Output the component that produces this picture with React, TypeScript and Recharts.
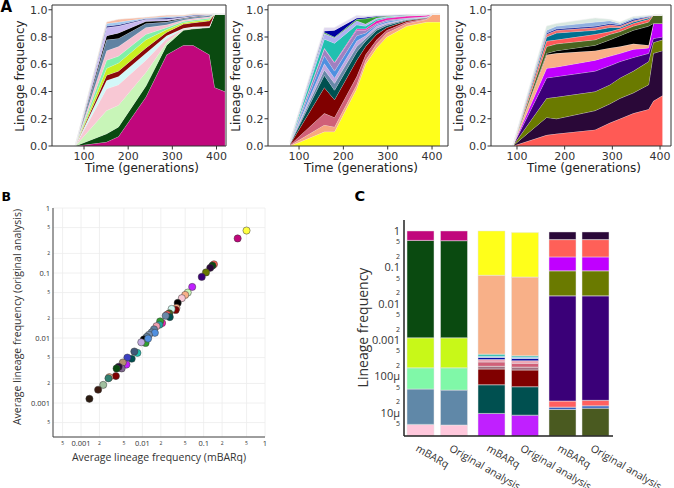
import React from "react";
import {
  AreaChart,
  Area,
  XAxis,
  YAxis,
  ReferenceLine,
  ScatterChart,
  Scatter,
  CartesianGrid,
  Cell,
  BarChart,
  Bar,
} from "recharts";

const FONT_A = "'DejaVu Sans', sans-serif";
const FONT_BC = "'Open Sans', 'Liberation Sans', sans-serif";

// ---------- A: lineage frequencies over time, listed bottom -> top ----------
const A_X_TICKS = [100, 200, 300, 400];
const A_Y_TICKS = [0, 0.2, 0.4, 0.6, 0.8, 1];

const A1_TIMES = [80, 151, 178, 240, 287, 325, 347, 384, 396, 419];
const A1_LINEAGES = [
  [0, 0.03, 0.07, 0.36, 0.67, 0.74, 0.74, 0.67, 0.43, 0.4],
  [0, 0.06, 0.07, 0.08, 0.07, 0.11, 0.12, 0.2, 0.54, 0.57],
  [0, 0.17, 0.16, 0.1, 0.02, 0.005, 0.005, 0.003, 0, 0],
  [0, 0.16, 0.15, 0.09, 0.03, 0.005, 0.005, 0.003, 0, 0],
  [0, 0.06, 0.06, 0.05, 0.02, 0.005, 0.005, 0.003, 0, 0],
  [0, 0.04, 0.04, 0.04, 0.025, 0.03, 0.03, 0.04, 0, 0],
  [0, 0.05, 0.06, 0.06, 0.02, 0.01, 0.01, 0.01, 0, 0],
  [0, 0.06, 0.05, 0.04, 0.015, 0.01, 0.01, 0.01, 0, 0],
  [0, 0.07, 0.07, 0.05, 0.02, 0.01, 0.01, 0.01, 0, 0],
  [0, 0.08, 0.06, 0.03, 0.02, 0.01, 0.01, 0.01, 0, 0],
  [0, 0.03, 0.04, 0.015, 0.01, 0.005, 0.005, 0.002, 0, 0],
  [0, 0.06, 0.05, 0.015, 0.01, 0.005, 0.005, 0.002, 0, 0],
  [0, 0.01, 0.01, 0.005, 0.01, 0.005, 0.005, 0.002, 0, 0],
  [0, 0.02, 0.02, 0.005, 0.01, 0.005, 0.005, 0.002, 0, 0],
  [0, 0.01, 0.02, 0.005, 0.01, 0.005, 0.005, 0.002, 0, 0],
];
const A1_COLORS = [
  "#c0077c", "#0a4a10", "#c8f5b8", "#f8c8d4", "#d2f8f8", "#8b0a0a", "#c8f020", "#80f0a8",
  "#f5c0d0", "#6082a2", "#000000", "#c8b8f0", "#202080", "#a0c8f0", "#f8b8a0",
];

const A2_TIMES = [80, 157, 180, 230, 250, 275, 298, 343, 388, 403, 418];
const A2_LINEAGES = [
  [0, 0.105, 0.105, 0.42, 0.6, 0.72, 0.8, 0.88, 0.91, 0.91, 0.91],
  [0.005, 0.05, 0.035, 0.03, 0.03, 0.03, 0.03, 0.02, 0.02, 0.06, 0.06],
  [0.005, 0.085, 0.07, 0.06, 0.04, 0.03, 0.02, 0.01, 0.005, 0, 0],
  [0.005, 0.19, 0.13, 0.12, 0.06, 0.04, 0.02, 0.01, 0.005, 0, 0],
  [0.004, 0.09, 0.07, 0.06, 0.04, 0.03, 0.015, 0.005, 0.003, 0, 0],
  [0.003, 0.04, 0.05, 0.04, 0.02, 0.015, 0.01, 0.005, 0.002, 0, 0],
  [0.003, 0.045, 0.04, 0.04, 0.02, 0.015, 0.01, 0.003, 0.002, 0, 0],
  [0.003, 0.06, 0.05, 0.04, 0.02, 0.01, 0.01, 0.003, 0.002, 0, 0],
  [0.003, 0.05, 0.06, 0.04, 0.02, 0.01, 0.01, 0.003, 0.002, 0, 0],
  [0, 0.005, 0.005, 0.01, 0.01, 0.02, 0.015, 0.015, 0.01, 0, 0],
  [0.003, 0.065, 0.14, 0.03, 0.02, 0.01, 0.005, 0.003, 0.002, 0, 0],
  [0.002, 0.04, 0.04, 0.03, 0.015, 0.01, 0.005, 0.002, 0.001, 0, 0],
  [0.002, 0.01, 0.005, 0.01, 0.04, 0.01, 0.005, 0.002, 0, 0, 0],
  [0.001, 0.01, 0.05, 0.01, 0.01, 0.005, 0.003, 0.002, 0, 0, 0],
  [0.002, 0.025, 0.02, 0.02, 0.01, 0.005, 0.004, 0.002, 0.002, 0, 0],
];
const A2_COLORS = [
  "#ffff1a", "#f8a880", "#d06078", "#800000", "#005050", "#6888a8", "#c0a8e0", "#5090e0",
  "#a080c0", "#f020b0", "#20c0b0", "#b0b0f0", "#30a030", "#0000a0", "#e0d8f0",
];

const A3_TIMES = [91, 162, 183, 264, 295, 316, 344, 376, 386, 405];
const A3_LINEAGES = [
  [0, 0.08, 0.09, 0.12, 0.17, 0.2, 0.24, 0.27, 0.33, 0.37],
  [0, 0.13, 0.11, 0.14, 0.14, 0.15, 0.15, 0.18, 0.35, 0.33],
  [0, 0.14, 0.16, 0.14, 0.14, 0.15, 0.16, 0.17, 0.08, 0.08],
  [0, 0.15, 0.15, 0.15, 0.14, 0.12, 0.1, 0.06, 0.03, 0.02],
  [0, 0.07, 0.07, 0.08, 0.07, 0.06, 0.06, 0.04, 0.11, 0.1],
  [0, 0.1, 0.1, 0.07, 0.06, 0.05, 0.04, 0.02, 0, 0],
  [0, 0.01, 0.02, 0.04, 0.06, 0.08, 0.1, 0.14, 0, 0],
  [0, 0.05, 0.05, 0.04, 0.04, 0.03, 0.03, 0.03, 0.06, 0.06],
  [0, 0.04, 0.03, 0.04, 0.02, 0.02, 0.02, 0.02, 0, 0],
  [0, 0.03, 0.05, 0.03, 0.03, 0.01, 0.01, 0.01, 0, 0],
  [0, 0.02, 0.02, 0.02, 0.02, 0.01, 0.01, 0.005, 0, 0],
  [0, 0.01, 0.01, 0.01, 0.01, 0.01, 0.01, 0.005, 0, 0],
  [0, 0.02, 0.02, 0.03, 0.02, 0.01, 0.01, 0.005, 0, 0],
  [0, 0.03, 0.02, 0.03, 0.01, 0.01, 0.01, 0.005, 0, 0],
];
const A3_COLORS = [
  "#ff5a55", "#2a0838", "#6a7a00", "#3c0078", "#c000ff", "#f8b088", "#000000",
  "#4a6420", "#ff5858", "#007090", "#f07070", "#2030a0", "#90b0e0", "#d8e8e0",
];

// ---------- B: average lineage frequency, mBARq vs original ----------
const B_MBARQ = [
  0.5, 0.358, 0.147, 0.139, 0.128, 0.109, 0.093, 0.065, 0.055, 0.05, 0.044, 0.0377, 0.036,
  0.035, 0.03, 0.0275, 0.0255, 0.028, 0.024, 0.021, 0.0195, 0.019, 0.017, 0.0155, 0.0142,
  0.016, 0.0128, 0.0118, 0.0106, 0.0113, 0.0096, 0.0124, 0.0083, 0.0074, 0.0067, 0.0057,
  0.0055, 0.0048, 0.0046, 0.0041, 0.0038, 0.0037, 0.0029, 0.0028, 0.0023, 0.0019, 0.00137,
];
const B_ORIGINAL = [
  0.45, 0.34, 0.136, 0.13, 0.12, 0.102, 0.087, 0.061, 0.05, 0.046, 0.041, 0.0346, 0.029,
  0.027, 0.028, 0.024, 0.023, 0.021, 0.022, 0.017, 0.018, 0.016, 0.0152, 0.0136, 0.0122,
  0.012, 0.0112, 0.0104, 0.0095, 0.0084, 0.0086, 0.0098, 0.0059, 0.0062, 0.0048, 0.005,
  0.0039, 0.0042, 0.0034, 0.0036, 0.0034, 0.0026, 0.0025, 0.0024, 0.0019, 0.0016, 0.00116,
];
const B_COLORS = [
  "#ffff40", "#c0077c", "#ff6050", "#0a4a10", "#2a0838", "#6a7a00", "#3c0078", "#c020ff",
  "#c8f5b8", "#f8b088", "#f8c8d4", "#000000", "#f8b088", "#800000", "#d0f8f0", "#4a6420",
  "#ff5858", "#005050", "#6888a8", "#f020b0", "#30a030", "#20a0a0", "#f0a0b0", "#5f7f9f",
  "#6888a8", "#5090e0", "#7890b0", "#60809a", "#000000", "#30a030", "#c0a8e0", "#5090e0",
  "#20c0b0", "#405878", "#005050", "#3c40c0", "#c020ff", "#b09070", "#806890", "#2a0838",
  "#0a4a10", "#800000", "#f8b088", "#308070", "#a0c0a0", "#3a1a10", "#2a1a10",
];
const B_TICKS = [0.0005, 0.001, 0.002, 0.005, 0.01, 0.02, 0.05, 0.1, 0.2, 0.5, 1];
const B_TICK_LABELS = ["5", "0.001", "2", "5", "0.01", "2", "5", "0.1", "2", "5", "1"];

// ---------- C: cumulative frequency at the top of each lineage (bottom -> top) ----------
const C_GROUPS = ["mBARq", "Original analysis"];
const C_FLOOR = 2.3e-6;
const C1_MBARQ = [4.8e-6, 4.5e-5, 1.72e-4, 1.15e-3, 0.55, 1.0];
const C1_ORIGINAL = [4.6e-6, 4.2e-5, 1.72e-4, 1.15e-3, 0.54, 1.0];
const C1_COLORS = ["#ffc8dc", "#6088a8", "#80f8a8", "#c8f818", "#0a4a10", "#c0077c"];
const C2_MBARQ = [9.6e-6, 5.9e-5, 1.6e-4, 1.9e-4, 2.5e-4, 2.9e-4, 3.3e-4, 3.6e-4, 4.1e-4, 0.0605, 1.0];
const C2_ORIGINAL = [8.6e-6, 5.2e-5, 1.5e-4, 1.8e-4, 2.3e-4, 2.7e-4, 3.1e-4, 3.4e-4, 3.7e-4, 0.054, 0.9];
const C2_COLORS = [
  "#c020ff", "#005050", "#800000", "#a07080", "#d06078", "#f0a0b0", "#0000a0", "#80c0f0",
  "#20c0b0", "#f8b088", "#ffff1a",
];
const C3_MBARQ = [1.23e-5, 1.43e-5, 2.1e-5, 0.0164, 0.08, 0.193, 0.578, 0.94];
const C3_ORIGINAL = [1.34e-5, 1.55e-5, 2.2e-5, 0.0164, 0.08, 0.193, 0.578, 0.94];
const C3_COLORS = ["#4a5a20", "#3060c0", "#ff6060", "#3a0078", "#6a7a00", "#c000ff", "#ff6058", "#2a0838"];
const C_TICKS = [
  5e-6, 1e-5, 2e-5, 5e-5, 1e-4, 2e-4, 5e-4, 1e-3, 2e-3, 5e-3, 0.01, 0.02, 0.05, 0.1, 0.2, 0.5, 1,
];
const C_TICK_LABELS = [
  "5", "10µ", "2", "5", "100µ", "2", "5", "0.001", "2", "5", "0.01", "2", "5", "0.1", "2", "5", "1",
];

const toRows = (times: number[], lineages: number[][]) =>
  times.map((t, i) => {
    const row: Record<string, number> = { t };
    lineages.forEach((s, k) => (row["s" + k] = s[i]));
    return row;
  });

const toBarRows = (bars: number[][]) =>
  C_GROUPS.map((name, g) => {
    const row: Record<string, any> = { name };
    bars[g].forEach((top, k) => (row["s" + k] = [k === 0 ? C_FLOOR : bars[g][k - 1], top]));
    return row;
  });

const labelFor = (ticks: number[], labels: string[], v: number) => {
  const i = ticks.findIndex((t) => Math.abs(t - v) / t < 1e-6);
  return i < 0 ? "" : labels[i];
};

function LogTick(props: any) {
  const { x, y, payload, ticks, labels, side, big, small } = props;
  const label = labelFor(ticks, labels, payload.value);
  const minor = label === "2" || label === "5";
  const size = minor ? small : big;
  if (side === "x")
    return (
      <text x={x} y={y + 4} dy="0.35em" textAnchor="middle" fontSize={size} fill="#333" fontFamily={FONT_BC}>
        {label}
      </text>
    );
  return (
    <text x={x} y={y} dy="0.35em" textAnchor="end" fontSize={size} fill="#333" fontFamily={FONT_BC}>
      {label}
    </text>
  );
}

function RotTick(props: any) {
  const { x, y, payload } = props;
  const ax = x - 2;
  const ay = y + 6;
  return (
    <text x={ax} y={ay} dy="0.71em" textAnchor="start" transform={`rotate(30 ${ax} ${ay})`} fontSize={10.5} fill="#333" fontFamily={FONT_BC}>
      {payload.value}
    </text>
  );
}

function StackPanel({ left, plotW, times, lineages, colors, xDomain }: any) {
  const rows = toRows(times, lineages);
  const tickStyle = { fontSize: 11, fill: "#333", fontFamily: FONT_A };
  return (
    <div style={{ position: "absolute", left, top: 0 }}>
      <AreaChart width={52 + plotW + 2} height={166} data={rows} margin={{ top: 5, right: 2, bottom: 0, left: 0 }}>
        <XAxis dataKey="t" type="number" domain={xDomain} ticks={A_X_TICKS} interval={0} allowDataOverflow height={20} tick={tickStyle} tickSize={3.5} tickMargin={3} stroke="#333" />
        <YAxis type="number" domain={[0, 1.035]} ticks={A_Y_TICKS} interval={0} allowDataOverflow width={52} tick={tickStyle} tickFormatter={(v: number) => v.toFixed(1)} tickSize={3.5} tickMargin={1} stroke="#333" />
        {lineages.map((_: number[], k: number) => (
          <Area key={k} type="linear" dataKey={"s" + k} stackId="1" fill={colors[k]} fillOpacity={1} stroke="#f2f2f2" strokeWidth={0.6} dot={false} activeDot={false} isAnimationActive={false} />
        ))}
        <ReferenceLine y={1.035} stroke="#333" />
        <ReferenceLine x={xDomain[1]} stroke="#333" />
      </AreaChart>
    </div>
  );
}

function BarPanel({ left, plotW, bars, colors, withAxis, divider, padRight }: any) {
  const rows = toBarRows(bars);
  const yw = withAxis ? 50 : 0;
  return (
    <div style={{ position: "absolute", left, top: 210 }}>
      <BarChart width={yw + plotW} height={278} data={rows} barSize={27} barGap={-27} margin={{ top: 10, right: 0, bottom: 0, left: 0 }}>
        <XAxis dataKey="name" type="category" height={52} padding={{ left: 0, right: padRight }} tickLine={false} tickSize={0} tickMargin={2} axisLine={{ stroke: "#222", strokeWidth: 1.5 }} tick={(p: any) => <RotTick {...p} />} interval={0} />
        <YAxis
          type="number"
          scale="log"
          domain={[C_FLOOR, 2]}
          ticks={C_TICKS}
          interval={0}
          allowDataOverflow
          width={yw}
          tickLine={false}
          tickSize={0}
          tickMargin={4}
          axisLine={{ stroke: divider, strokeWidth: 1.5 }}
          tick={withAxis ? (p: any) => <LogTick {...p} ticks={C_TICKS} labels={C_TICK_LABELS} side="y" big={11} small={7} /> : false}
        />
        {colors.map((c: string, k: number) => (
          <Bar key={k} dataKey={"s" + k} fill={c} stroke="#e6e6e6" strokeWidth={0.5} isAnimationActive={false} />
        ))}
      </BarChart>
    </div>
  );
}

export default function App() {
  const points = B_MBARQ.map((x, i) => ({ x, y: B_ORIGINAL[i] }));
  return (
    <div style={{ position: "absolute", left: 0, top: 0, width: 674, height: 488, background: "#fff", overflow: "hidden" }}>
      <style>{`.recharts-surface{overflow:visible}`}</style>

      <StackPanel left={0} plotW={174} times={A1_TIMES} lineages={A1_LINEAGES} colors={A1_COLORS} xDomain={[27.5, 421.5]} />
      <StackPanel left={216} plotW={180} times={A2_TIMES} lineages={A2_LINEAGES} colors={A2_COLORS} xDomain={[30, 436]} />
      <StackPanel left={439} plotW={180} times={A3_TIMES} lineages={A3_LINEAGES} colors={A3_COLORS} xDomain={[45.5, 423]} />

      <div style={{ position: "absolute", left: 0, top: 190 }}>
        <ScatterChart width={275} height={267} margin={{ top: 18, right: 10, bottom: 0, left: 0 }}>
          <CartesianGrid stroke="#ececec" strokeWidth={0.8} />
          <XAxis type="number" dataKey="x" scale="log" domain={[3.49e-4, 1]} ticks={B_TICKS} interval={0} allowDataOverflow height={20} tickLine={false} tickSize={0} tickMargin={2} stroke="#444" tick={(p: any) => <LogTick {...p} ticks={B_TICKS} labels={B_TICK_LABELS} side="x" big={7.5} small={5} />} />
          <YAxis type="number" dataKey="y" scale="log" domain={[3e-4, 1]} ticks={B_TICKS} interval={0} allowDataOverflow width={53} tickLine={false} tickSize={0} tickMargin={3} stroke="#444" tick={(p: any) => <LogTick {...p} ticks={B_TICKS} labels={B_TICK_LABELS} side="y" big={7.5} small={5} />} />
          <Scatter data={points} isAnimationActive={false} shape={(p: any) => <circle cx={p.cx} cy={p.cy} r={3.6} fill={p.fill} stroke="#3a3a3a" strokeWidth={0.5} />}>
            {points.map((_, i) => (
              <Cell key={i} fill={B_COLORS[i]} />
            ))}
          </Scatter>
        </ScatterChart>
      </div>

      <BarPanel left={354} plotW={71} bars={[C1_MBARQ, C1_ORIGINAL]} colors={C1_COLORS} withAxis divider="#222" padRight={4} />
      <BarPanel left={475} plotW={71} bars={[C2_MBARQ, C2_ORIGINAL]} colors={C2_COLORS} divider="#666" padRight={4} />
      <BarPanel left={546} plotW={67} bars={[C3_MBARQ, C3_ORIGINAL]} colors={C3_COLORS} divider="#666" padRight={1} />

      <svg width={674} height={488} style={{ position: "absolute", left: 0, top: 0, pointerEvents: "none" }}>
        <g fontWeight="bold" fill="#000" fontFamily={FONT_A}>
          <text x={0.5} y={11.7} fontSize={15}>A</text>
          <text x={1.5} y={200.7} fontSize={12.5}>B</text>
          <text x={354.5} y={200.7} fontSize={14.5}>C</text>
        </g>
        <g fontFamily={FONT_A} fontSize={12} fill="#222" textAnchor="middle">
          <text x={24} y={76} transform="rotate(-90 24 76)">Lineage frequency</text>
          <text x={239.5} y={76} transform="rotate(-90 239.5 76)">Lineage frequency</text>
          <text x={462.5} y={76} transform="rotate(-90 462.5 76)">Lineage frequency</text>
          <text x={142} y={172}>Time (generations)</text>
          <text x={361} y={172}>Time (generations)</text>
          <text x={584} y={172}>Time (generations)</text>
        </g>
        <g fontFamily={FONT_BC} fill="#333" textAnchor="middle">
          <text x={21} y={317} fontSize={10.5} transform="rotate(-90 21 317)">Average lineage frequency (original analysis)</text>
          <text x={159} y={460.5} fontSize={10.5}>Average lineage frequency (mBARq)</text>
          <text x={367.5} y={327.5} fontSize={14} transform="rotate(-90 367.5 327.5)">Lineage frequency</text>
        </g>
      </svg>
    </div>
  );
}
